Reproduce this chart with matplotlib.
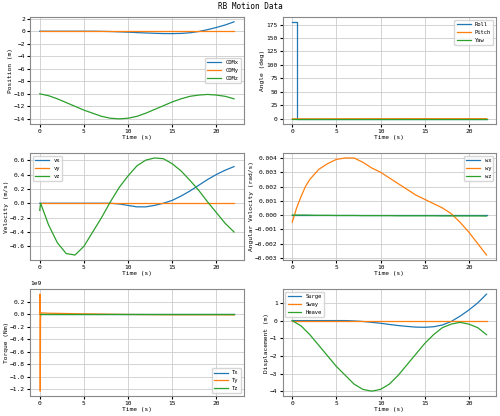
import matplotlib
matplotlib.use("Agg")
import matplotlib.pyplot as plt
from matplotlib.ticker import MultipleLocator

plt.rcParams["font.family"] = ["DejaVu Sans Mono"]
plt.rcParams["font.size"] = 4.5

t = [0, 1, 2, 3, 4, 5, 6, 7, 8, 9, 10, 11, 12, 13, 14, 15, 16, 17, 18, 19, 20, 21, 22]

com_x = [0, 0, 0, 0, 0, 0, 0, -0.02, -0.05, -0.1, -0.15, -0.22, -0.28, -0.33, -0.37, -0.38, -0.35, -0.25, -0.05, 0.25, 0.6, 1.0, 1.5]
com_y = [0] * 23
com_z = [-10, -10.3, -10.8, -11.4, -12.0, -12.6, -13.1, -13.6, -13.9, -14.0, -13.9, -13.6, -13.1, -12.5, -11.9, -11.3, -10.8, -10.4, -10.2, -10.1, -10.2, -10.4, -10.8]

t_ang = [0, 0.5, 0.5, 1, 5, 10, 15, 20, 22]
roll = [180, 180, 0, 0, 0, 0, 0, 0, 0]
pitch = [0, 0, 0, 0, 0.1, 0.2, 0.3, 0.3, 0.3]
yaw = [0, 0, 0, 0, 0, 0, 0, 0, 0]

t_v = [0, 0.1, 1, 2, 3, 4, 5, 6, 7, 8, 9, 10, 11, 12, 13, 14, 15, 16, 17, 18, 19, 20, 21, 22]
vx = [0, 0, 0, 0, 0, 0, 0, 0, 0, 0, -0.01, -0.03, -0.05, -0.05, -0.03, 0, 0.04, 0.1, 0.17, 0.25, 0.33, 0.4, 0.46, 0.51]
vy = [0] * 24
vz = [-0.1, 0, -0.3, -0.55, -0.7, -0.72, -0.6, -0.4, -0.2, 0.02, 0.22, 0.38, 0.52, 0.6, 0.63, 0.62, 0.55, 0.45, 0.32, 0.18, 0.02, -0.13, -0.28, -0.4]

t_w = [0, 0.5, 1, 1.5, 2, 3, 4, 5, 6, 6.5, 7, 8, 9, 10, 11, 12, 13, 14, 15, 16, 17, 18, 19, 20, 21, 22]
wx = [0] * 26
wy = [-0.0005, 0.0005, 0.0013, 0.002, 0.0025, 0.0032, 0.0036, 0.0039, 0.004, 0.004, 0.004, 0.0037, 0.0033, 0.003, 0.0026, 0.0022, 0.0018, 0.0014, 0.0011, 0.0008, 0.0005, 0.0001, -0.0005, -0.0012, -0.002, -0.0028]
wz = [0, 0, 0, 0, -0.00001, -0.00002, -0.00002, -0.00003, -0.00003, -0.00003, -0.00003, -0.00004, -0.00004, -0.00004, -0.00004, -0.00005, -0.00005, -0.00005, -0.00005, -0.00005, -0.00006, -0.00006, -0.00006, -0.00006, -0.00006, -0.00007]

t_tq = [0, 0.03, 0.06, 0.09, 0.12, 0.2, 1, 5, 10, 15, 20, 22]
tx = [0, 0, 0, 0, 0, 0, 0, 0, 0, 0, 0, 0]
ty = [0, 0.32e9, -1.23e9, -0.1e9, 0.02e9, 0.02e9, 0.015e9, 0.005e9, -0.005e9, -0.01e9, -0.01e9, -0.012e9]
tz = [0, 0, 0, 0, 0, 0, 0, 0, 0, 0, 0, 0]

surge = com_x
sway = com_y
heave = [z + 10 for z in com_z]

fig, axes = plt.subplots(3, 2, figsize=(5, 4.16), dpi=100)
fig.suptitle("RB Motion Data", fontsize=5.5, y=0.995)

panels = [
    (axes[0, 0], [(t, com_x, "COMx"), (t, com_y, "COMy"), (t, com_z, "COMz")], "Position (m)", "center right", 2),
    (axes[0, 1], [(t_ang, roll, "Roll"), (t_ang, pitch, "Pitch"), (t_ang, yaw, "Yaw")], "Angle (deg)", "upper right", 25),
    (axes[1, 0], [(t_v, vx, "vx"), (t_v, vy, "vy"), (t_v, vz, "vz")], "Velocity (m/s)", "upper left", 0.2),
    (axes[1, 1], [(t_w, wx, "wx"), (t_w, wy, "wy"), (t_w, wz, "wz")], "Angular Velocity (rad/s)", "upper right", 0.001),
    (axes[2, 0], [(t_tq, tx, "Tx"), (t_tq, ty, "Ty"), (t_tq, tz, "Tz")], "Torque (Nm)", "lower right", 0.2e9),
    (axes[2, 1], [(t, surge, "Surge"), (t, sway, "Sway"), (t, heave, "Heave")], "Displacement (m)", "upper left", 1),
]
colors = ["#1f77b4", "#ff7f0e", "#2ca02c"]
for ax, series, ylabel, loc, step in panels:
    for (x, y, lab), c in zip(series, colors):
        ax.plot(x, y, color=c, lw=0.9, label=lab)
    ax.set_xlabel("Time (s)", labelpad=1)
    ax.set_ylabel(ylabel, labelpad=1)
    ax.grid(True, color="#cccccc", lw=0.6)
    ax.legend(loc=loc, fontsize=4, handlelength=2.5)
    ax.tick_params(length=2, pad=1.5)
    for s in ax.spines.values():
        s.set_color("#888888")
    ax.set_xticks([0, 5, 10, 15, 20])
    ax.yaxis.set_major_locator(MultipleLocator(step))

fig.tight_layout(pad=0.6, h_pad=0.8, w_pad=0.8)
fig.savefig("out.png")
